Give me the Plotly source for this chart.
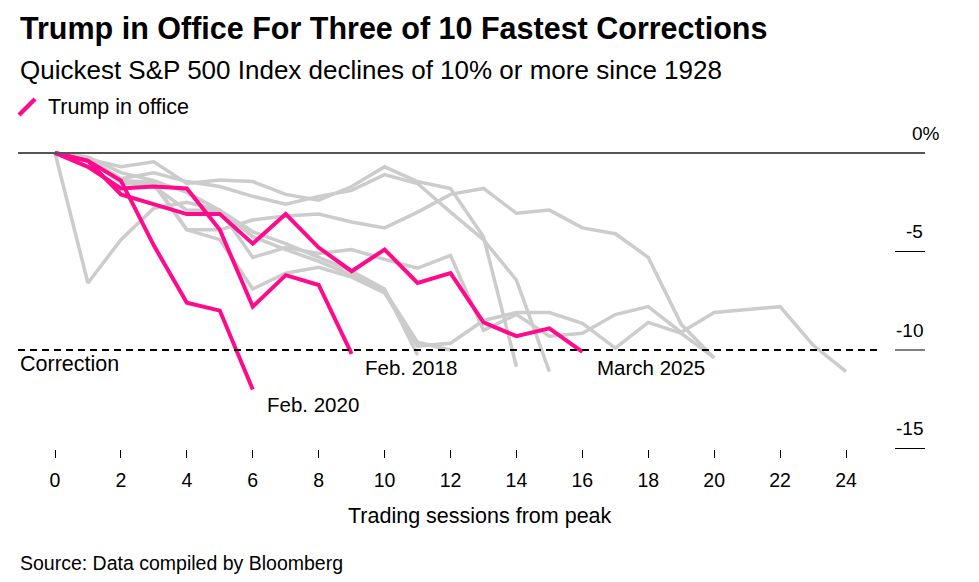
import plotly.graph_objects as go

# ---------------- data ----------------
sessions_feb2020 = [0, 1, 2, 3, 4, 5, 6]
feb2020 = [0, -0.4, -1.4, -4.7, -7.6, -8.0, -12.0]

sessions_feb2018 = [0, 1, 2, 3, 4, 5, 6, 7, 8, 9]
feb2018 = [0, -0.7, -1.8, -1.7, -1.8, -3.9, -7.8, -6.2, -6.7, -10.2]

sessions_mar2025 = list(range(17))
mar2025 = [0, -0.4, -2.1, -2.6, -3.1, -3.1, -4.6, -3.1, -4.8, -6.0, -4.9,
           -6.6, -6.1, -8.6, -9.3, -8.9, -10.1]

other_1 = [0, -0.3, -1.45, -1.6, -3.9, -4.4, -6.9, -6.1, -5.8, -6.3, -7.1, -9.8, -9.66,
           -8.5, -8.1, -8.1, -8.65, -9.9, -8.6, -9.15, -10.4]
other_2 = [0, -0.3, -0.7, -0.45, -1.55, -1.37, -1.45, -2.1, -2.4, -1.7, -0.7, -1.45, -1.8,
           -4.25, -10.85]
other_3 = [0, -0.3, -1.3, -1.0, -1.45, -1.7, -2.2, -2.6, -2.2, -1.9, -1.1, -1.55, -3.0,
           -4.4, -6.45, -11.1]
other_4 = [0, -0.4, -1.4, -1.5, -3.9, -3.9, -3.4, -3.2, -3.1, -3.5, -3.8, -3.0, -2.1,
           -1.8, -3.06, -2.9, -3.8, -4.1, -5.3, -8.7, -10.4]
other_5 = [0, -6.6, -4.4, -2.8, -2.5, -2.9, -5.3, -4.8, -5.1, -4.9, -5.4, -5.85, -5.2,
           -9.0, -8.2, -9.3, -9.15, -8.2, -7.8, -9.1, -8.1, -7.95, -7.8, -9.75, -11.1]
other_6 = [0, -0.3, -1.5, -1.7, -2.9, -2.9, -4.25, -4.9, -5.5, -6.2, -7.0, -9.6, -10.0]
other_7 = [0, -0.2, -1.0, -1.4, -2.0, -2.9, -4.0, -4.6, -5.3, -6.0, -6.9, -10.25]

others = [other_1, other_2, other_3, other_4, other_5, other_6, other_7]

x_ticks = list(range(0, 25, 2))
y_ticks = [0, -5, -10, -15]
y_labels = ["0%", "-5", "-10", "-15"]

# ---------------- style ----------------
PINK = "#FF0A8C"
GREY = "#CCCCCC"
FONT = "Liberation Sans, Arial, sans-serif"

W, H = 979, 582
L, R, T, B = 18, 54, 140, 133
PX0, PX_PER = 55.0, 32.96       # x=0 pixel, pixels per session
PY0, PY_PER = 153.0, 19.7       # y=0 pixel, pixels per percent
plot_w = W - L - R
plot_h = H - T - B
x_range = [(L - PX0) / PX_PER, (W - R - PX0) / PX_PER]
y_range = [-(H - B - PY0) / PY_PER, (PY0 - T) / PY_PER]


def px2paper_x(px):
    return (px - L) / plot_w


def px2paper_y(py):
    return (H - B - py) / plot_h


def px2data_x(px):
    return (px - PX0) / PX_PER


def px2data_y(py):
    return -(py - PY0) / PY_PER


fig = go.Figure()

for ys in others:
    fig.add_trace(go.Scatter(x=list(range(len(ys))), y=ys, mode="lines",
                             line=dict(color=GREY, width=3.5), hoverinfo="skip",
                             showlegend=False))

for xs, ys in [(sessions_feb2018, feb2018), (sessions_mar2025, mar2025),
               (sessions_feb2020, feb2020)]:
    fig.add_trace(go.Scatter(x=xs, y=ys, mode="lines",
                             line=dict(color=PINK, width=4), showlegend=False))

shapes = []
# zero line
shapes.append(dict(type="line", xref="x", yref="y", x0=x_range[0], x1=x_range[1],
                   y0=0, y1=0, line=dict(color="#555555", width=2)))
# right-hand tick lines
for v in y_ticks[1:]:
    shapes.append(dict(type="line", xref="x", yref="y", x0=px2data_x(895),
                       x1=x_range[1], y0=v, y1=v, line=dict(color="#000000", width=1)))
# correction line
shapes.append(dict(type="line", xref="x", yref="y", x0=x_range[0],
                   x1=px2data_x(882), y0=-10, y1=-10,
                   line=dict(color="#000000", width=2, dash="7px,5px")))
# legend swatch
shapes.append(dict(type="line", xref="paper", yref="paper",
                   x0=px2paper_x(19), y0=px2paper_y(115), x1=px2paper_x(35), y1=px2paper_y(99),
                   line=dict(color=PINK, width=4.5)))

ann = []
for v, t in zip(y_ticks, y_labels):
    if v == 0:
        ann.append(dict(x=px2data_x(910), y=v, xref="x", yref="y", text=t,
                        xanchor="left", yanchor="middle", yshift=20, showarrow=False,
                        font=dict(size=19, color="#000")))
    else:
        ann.append(dict(x=px2data_x(925), y=v, xref="x", yref="y", text=t,
                        xanchor="right", yanchor="middle", yshift=20, showarrow=False,
                        font=dict(size=19, color="#000")))

labels = [("Correction", 18, 364, 21.5), ("Feb. 2018", 363, 367, 20.5),
          ("Feb. 2020", 265, 404, 20.5), ("March 2025", 595, 367, 20.5)]
for txt, px, py, sz in labels:
    ann.append(dict(x=px2data_x(px), y=px2data_y(py), xref="x", yref="y",
                    text=txt, xanchor="left", yanchor="middle", showarrow=False,
                    font=dict(size=sz, color="#000")))

ann.append(dict(x=0, y=px2paper_y(29), xref="paper", yref="paper",
                text="<b>Trump in Office For Three of 10 Fastest Corrections</b>",
                xanchor="left", yanchor="middle", showarrow=False,
                font=dict(size=30.5, color="#000")))
ann.append(dict(x=0, y=px2paper_y(70), xref="paper", yref="paper",
                text="Quickest S&P 500 Index declines of 10% or more since 1928",
                xanchor="left", yanchor="middle", showarrow=False,
                font=dict(size=26, color="#000")))
ann.append(dict(x=px2paper_x(46), y=px2paper_y(107), xref="paper", yref="paper",
                text="Trump in office", xanchor="left", yanchor="middle", showarrow=False,
                font=dict(size=21.5, color="#000")))
ann.append(dict(x=px2paper_x(480), y=px2paper_y(516), xref="paper", yref="paper",
                text="Trading sessions from peak", xanchor="center", yanchor="middle",
                showarrow=False, font=dict(size=21.5, color="#000")))
ann.append(dict(x=0, y=px2paper_y(563), xref="paper", yref="paper",
                text="Source: Data compiled by Bloomberg", xanchor="left",
                yanchor="middle", showarrow=False, font=dict(size=19.5, color="#000")))

fig.update_layout(
    width=W, height=H, margin=dict(l=L, r=R, t=T, b=B, pad=0),
    paper_bgcolor="white", plot_bgcolor="white",
    font=dict(family=FONT, color="#000"),
    shapes=shapes, annotations=ann, showlegend=False,
    xaxis=dict(range=x_range, tickvals=x_ticks, ticktext=[str(v) for v in x_ticks],
               ticks="outside", ticklen=8, tickwidth=1, tickcolor="#000",
               showgrid=False, zeroline=False, showline=False,
               tickfont=dict(size=19.5, color="#000"), ticklabelstandoff=6, fixedrange=True),
    yaxis=dict(range=y_range, showticklabels=False, ticks="", showgrid=False,
               zeroline=False, showline=False, fixedrange=True),
)

fig.write_html("out.html", config={"displayModeBar": False},
               post_script="document.body.style.margin='0px';document.body.style.overflow='hidden';")
